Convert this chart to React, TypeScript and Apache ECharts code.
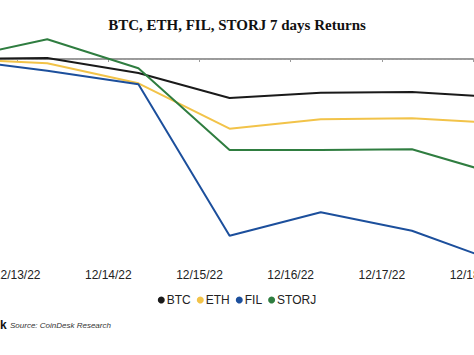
import React, { useEffect, useRef } from "react";
import * as echarts from "echarts";

// x positions in days since 12/12/22 00:00 (data sampled ~8am each day)
const dayPositions = [0.33, 1.33, 2.33, 3.33, 4.33, 5.33, 6.33];
const tickLabels = ["12/12/22", "12/13/22", "12/14/22", "12/15/22", "12/16/22", "12/17/22", "12/18/22"];

// 7-day returns (%)
const btc = [0, 0.1, -1.4, -3.9, -3.37, -3.3, -3.84];
const eth = [0, -0.43, -2.43, -6.97, -6.03, -5.93, -6.43];
const fil = [0, -1.17, -2.53, -17.67, -15.33, -17.17, -20.49];
const storj = [0, 1.97, -0.93, -9.1, -9.1, -9.03, -11.68];

const seriesNames = ["BTC", "ETH", "FIL", "STORJ"];
const seriesColors = ["#1a1a1a", "#f2c349", "#1c4f9c", "#2f7d40"];

export default function App() {
  const ref = useRef<HTMLDivElement>(null);
  useEffect(() => {
    if (!ref.current) return;
    const chart = echarts.init(ref.current, null, { renderer: "svg" });
    const all = [btc, eth, fil, storj];
    const series: any[] = all.map((vals, i) => ({
      name: seriesNames[i],
      type: "line",
      data: vals.map((v, j) => [dayPositions[j], v]),
      showSymbol: false,
      symbol: "circle",
      lineStyle: { color: seriesColors[i], width: 2 },
      itemStyle: { color: seriesColors[i] },
      clip: true,
      z: 3,
      markLine:
        i === 0
          ? {
              silent: true,
              symbol: "none",
              label: { show: false },
              lineStyle: { type: [1.5, 2.5], color: "#a0a0a0", width: 1.2 },
              data: [{ yAxis: 0 }],
              z: 1,
            }
          : undefined,
    }));
    chart.setOption({
      animation: false,
      backgroundColor: "#ffffff",
      title: {
        text: "BTC, ETH, FIL, STORJ 7 days Returns",
        left: "center",
        top: 12,
        textStyle: {
          fontFamily: "Liberation Serif",
          fontWeight: "bold",
          fontSize: 15,
          color: "#111111",
        },
      },
      legend: {
        data: seriesNames,
        left: "center",
        top: 289,
        icon: "circle",
        itemWidth: 7,
        itemHeight: 7,
        itemGap: 6,
        textStyle: {
          fontFamily: "Liberation Sans",
          fontSize: 12,
          color: "#222222",
          padding: [0, 0, 0, -3],
        },
      },
      grid: {
        left: -74,
        right: 1,
        top: 19,
        bottom: 90,
        containLabel: false,
        outerBoundsMode: "none",
      },
      xAxis: {
        type: "value",
        min: 0,
        max: 6,
        interval: 1,
        axisLine: { show: true, lineStyle: { color: "#9a9a9a", width: 2 } },
        axisTick: { show: true, length: 3, lineStyle: { color: "#9a9a9a", width: 1 } },
        axisLabel: {
          margin: 4,
          fontFamily: "Liberation Sans",
          fontSize: 12,
          color: "#222222",
          formatter: (v: number) => tickLabels[Math.round(v)] ?? "",
        },
        splitLine: { show: false },
      },
      yAxis: {
        type: "value",
        min: -20.6,
        max: 4,
        show: false,
        splitLine: { show: false },
      },
      graphic: [
        {
          type: "text",
          left: 0,
          top: 319,
          style: { text: "k", font: "bold 12px Liberation Sans", fill: "#111111" },
        },
        {
          type: "text",
          left: 10,
          top: 321,
          style: {
            text: "Source: CoinDesk Research",
            font: "italic 8px Liberation Sans",
            fill: "#333333",
          },
        },
      ],
      series,
    });
    return () => chart.dispose();
  }, []);
  return (
    <div
      ref={ref}
      style={{ position: "fixed", left: 0, top: 0, width: 474, height: 355, background: "#fff" }}
    />
  );
}
